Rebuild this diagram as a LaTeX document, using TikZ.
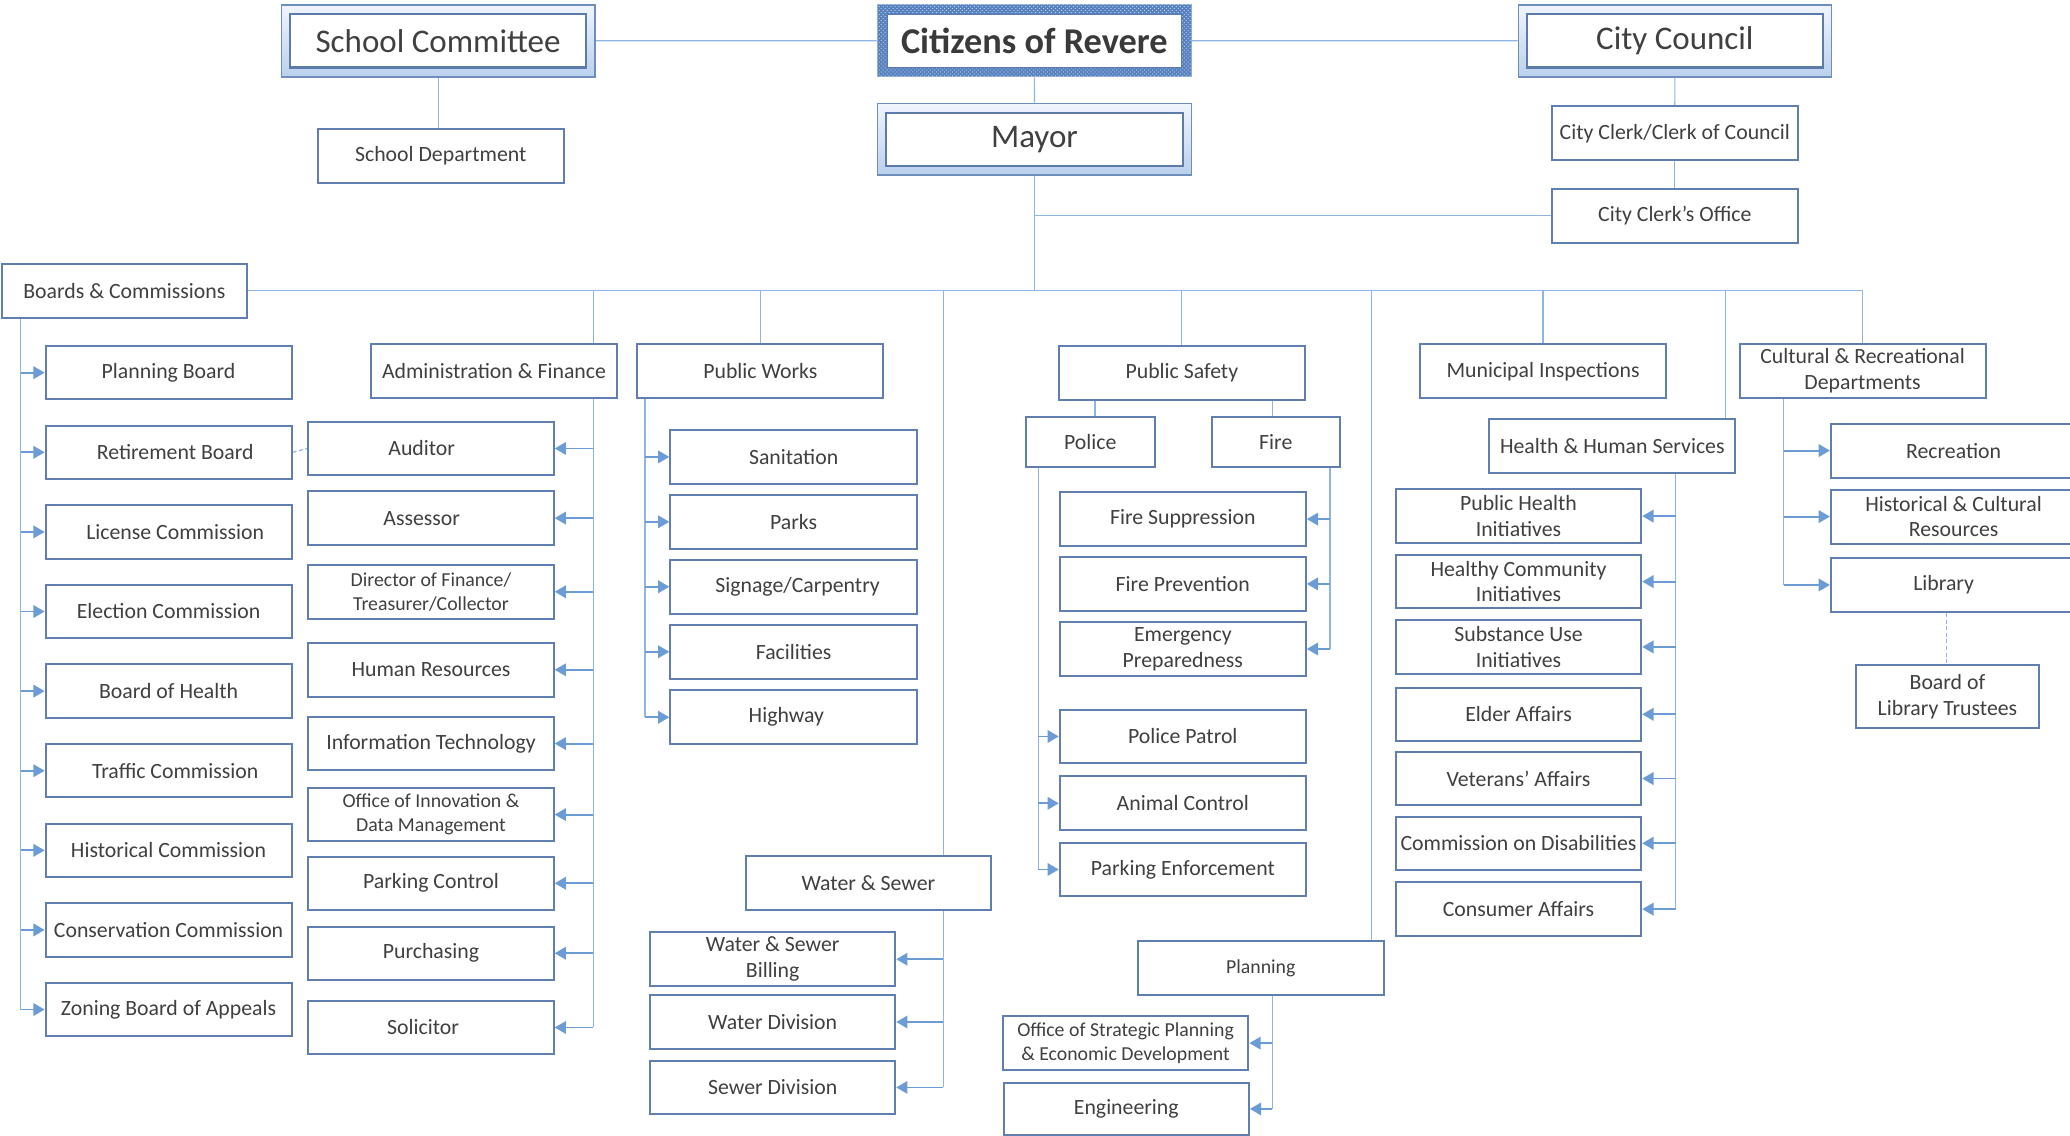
\documentclass[tikz,border=0pt]{standalone}
\usepackage{fontspec}
\setmainfont{Carlito}
\usetikzlibrary{arrows.meta,patterns,backgrounds}
\definecolor{boxc}{RGB}{96,126,176}
\definecolor{linec}{RGB}{143,181,226}
\definecolor{arrc}{RGB}{108,156,214}
\definecolor{txt}{RGB}{64,64,64}
\definecolor{frtop}{RGB}{240,245,252}
\definecolor{frbot}{RGB}{186,208,236}
\definecolor{frout}{RGB}{110,142,190}
\definecolor{frin}{RGB}{92,122,170}
\definecolor{citc}{RGB}{86,128,190}
\definecolor{citdot}{RGB}{190,210,238}
\definecolor{citedge}{RGB}{140,172,214}
\tikzset{
 obox/.style={draw=boxc, line width=1.5pt, fill=white, inner sep=0pt, text=txt, align=center, font=\fontsize{16.5}{19.5}\selectfont},
 smallt/.style={font=\fontsize{15}{18.2}\selectfont},
 conn/.style={draw=linec, line width=0.9pt},
 arr/.style={draw=arrc, line width=1.4pt, -{Triangle[length=8.5pt,width=9.5pt]}},
 dashc/.style={draw=linec, line width=0.9pt, dash pattern=on 3pt off 2pt},
 tframe/.style={draw=frout, line width=1.2pt, top color=frtop, bottom color=frbot, inner sep=0pt, anchor=north west},
 ttl/.style={draw=frin, line width=1.6pt, fill=white, inner sep=0pt, text=txt, font=\fontsize{25}{30}\selectfont},
}
\newcommand\bx[7][]{\node[obox,minimum width={#5-#3},minimum height={#6-#4},anchor=north west,#1] (#2) at (#3,#4) {#7};}
\begin{document}
\begin{tikzpicture}[x=1pt,y=-1pt]
\useasboundingbox (0,0) rectangle (1568,860);
\clip (0,0) rectangle (1568,860);
% ---- top row
\node[tframe, minimum width=237.5, minimum height=54.6] (schcomF) at (212.5,3) {};
\node[ttl, minimum width=224.5, minimum height=40.4] (schcom) at (schcomF.center) {School Committee};
\node[tframe, minimum width=238, minimum height=54] (mayorF) at (664,77.8) {};
\node[ttl, minimum width=224.8, minimum height=40.1] (mayor) at (mayorF.center) {Mayor};
\node[tframe, minimum width=237.2, minimum height=54.6] (councilF) at (1149.5,3) {};
\node[ttl, minimum width=223.8, minimum height=40.4] (council) at (councilF.center) {City Council};
\node[draw=citedge, line width=1pt, fill=citc, minimum width=238, minimum height=54.6, anchor=north west, inner sep=0pt, postaction={pattern=crosshatch dots, pattern color=citdot}] (citF) at (664,3) {};
\node[draw=frin, line width=0.8pt, fill=white, minimum width=223, minimum height=40, inner sep=0pt, text={rgb,255:red,58;green,58;blue,58}, font=\bfseries\fontsize{27.5}{32}\selectfont] (cit) at (citF.center) {Citizens of Revere};
\bx{schdept}{240}{96.7}{426.2}{137.9}{School Department}
\bx{clerk}{1174.7}{79.8}{1361.1}{120.7}{City Clerk/Clerk of Council}
\bx{clerkoff}{1174.7}{142.1}{1361.1}{183}{City Clerk’s Office}
\bx{boards}{0.8}{199.2}{186.2}{239.9}{Boards \& Commissions}
% ---- boards column
\bx{planb}{33.8}{261.3}{220.1}{301.8}{Planning Board}
\bx{retire}{33.8}{321.6}{220.1}{362.1}{\hspace*{10pt}Retirement Board}
\bx{license}{33.8}{381.9}{220.1}{422.4}{\hspace*{10pt}License Commission}
\bx{election}{33.8}{442.2}{220.1}{482.7}{Election Commission}
\bx{boh}{33.8}{502.5}{220.1}{543}{Board of Health}
\bx{traffic}{33.8}{562.8}{220.1}{603.3}{\hspace*{10pt}Traffic Commission}
\bx{histc}{33.8}{623.1}{220.1}{663.6}{Historical Commission}
\bx{conserv}{33.8}{683.4}{220.1}{723.9}{Conservation Commission}
\bx{zoning}{33.8}{743.7}{220.1}{784.2}{Zoning Board of Appeals}
% ---- admin & finance
\bx{admin}{280.3}{259.5}{466.6}{300.7}{Administration \& Finance}
\bx{auditor}{232.7}{318.6}{418.7}{359.3}{Auditor\hspace*{14pt}}
\bx{assessor}{232.7}{371.4}{418.7}{412}{Assessor\hspace*{14pt}}
\bx[smallt]{director}{232.7}{427.2}{418.7}{467.8}{Director of Finance/\\Treasurer/Collector}
\bx{hr}{232.7}{486.3}{418.7}{526.9}{Human Resources}
\bx{it}{232.7}{542.3}{418.7}{582.7}{Information Technology}
\bx[smallt]{innov}{232.7}{596.1}{418.7}{636.5}{Office of Innovation \&\\Data Management}
\bx{parking}{232.7}{648.1}{418.7}{688.5}{Parking Control}
\bx{purch}{232.7}{701.1}{418.7}{741.5}{Purchasing}
\bx{solicitor}{232.7}{757.2}{418.7}{797.9}{Solicitor\hspace*{12pt}}
% ---- public works
\bx{pw}{482}{260}{668.4}{300.9}{Public Works}
\bx{sanit}{507}{324.9}{693.8}{365.8}{Sanitation}
\bx{parks}{507}{374.2}{693.8}{414.8}{Parks}
\bx{signage}{507}{423.4}{693.8}{464}{\hspace*{6pt}Signage/Carpentry}
\bx{facil}{507}{472.6}{693.8}{513.3}{Facilities}
\bx{highway}{507}{522.1}{693.8}{563}{Highway\hspace*{11pt}}
% ---- water & sewer
\bx{ws}{564}{647.4}{750.1}{688.3}{Water \& Sewer}
\bx{billing}{491.7}{705.4}{677.4}{746.3}{Water \& Sewer\\Billing}
\bx{waterd}{491.7}{753.2}{677.4}{793.6}{Water Division}
\bx{sewer}{491.7}{802.6}{677.4}{843.3}{Sewer Division}
% ---- public safety
\bx{ps}{801.3}{261.3}{987.7}{302}{Public Safety}
\bx{police}{776.2}{315.1}{874}{353}{Police}
\bx{fire}{917.1}{315.1}{1014.2}{353}{Fire}
\bx{firesup}{802}{371.9}{988.4}{413}{Fire Suppression}
\bx{fireprev}{802}{421.1}{988.4}{462}{Fire Prevention}
\bx{emerg}{802}{470.4}{988.4}{511.3}{Emergency\\Preparedness}
\bx{patrol}{802}{536.8}{988.4}{577.4}{Police Patrol}
\bx{animal}{802}{587.3}{988.4}{628.2}{Animal Control}
\bx{parkenf}{802}{637.5}{988.4}{678.2}{Parking Enforcement}
% ---- planning
\bx[smallt]{planning}{861}{712}{1047.6}{752.9}{Planning}
\bx[smallt]{osp}{758.8}{769.1}{944.9}{809.7}{Office of Strategic Planning\\\& Economic Development}
\bx{eng}{759.5}{819.3}{945.3}{859.2}{Engineering}
% ---- inspections / HHS
\bx{mi}{1075.1}{260}{1261.1}{300.9}{Municipal Inspections}
\bx{hhs}{1127.5}{316.8}{1313.6}{357.5}{Health \& Human Services}
\bx{phi}{1056.5}{369.9}{1242.5}{410.5}{Public Health\\Initiatives}
\bx{hci}{1056.5}{419.6}{1242.5}{460}{Healthy Community\\Initiatives}
\bx{sui}{1056.5}{469.1}{1242.5}{509.5}{Substance Use\\Initiatives}
\bx{elder}{1056.5}{520.1}{1242.5}{560.5}{Elder Affairs}
\bx{vet}{1056.5}{568.8}{1242.5}{609.2}{Veterans’ Affairs}
\bx{dis}{1056.5}{617.8}{1242.5}{658.2}{Commission on Disabilities}
\bx{consumer}{1056.5}{667.6}{1242.5}{708.2}{Consumer Affairs}
% ---- cultural & recreational
\bx{cr}{1316.9}{259.5}{1503.3}{300.4}{Cultural \& Recreational\\Departments}
\bx{rec}{1386.1}{320.1}{1572}{361}{Recreation}
\bx{hcr}{1386.1}{370.1}{1572}{411}{Historical \& Cultural\\Resources}
\bx{library}{1386.1}{421.9}{1572}{462.8}{Library\hspace*{15pt}}
\bx{blt}{1405.4}{503.2}{1543.4}{550.9}{Board of\\Library Trustees}
% ---- trunk x positions
\coordinate (xBt) at (15.6,0);
\coordinate (xAF) at (449.3,0);
\coordinate (xPWt) at (488.6,0);
\coordinate (xWS) at (714.6,0);
\coordinate (xPol) at (829.4,0);
\coordinate (xFire) at (963.7,0);
\coordinate (xPD) at (786.6,0);
\coordinate (xFD) at (1007.4,0);
\coordinate (xPL) at (1039,0);
\coordinate (xPLt) at (963.7,0);
\coordinate (xHHS) at (1306.9,0);
\coordinate (xHHSt) at (1269.3,0);
\coordinate (xCRt) at (1351.1,0);
\coordinate (xLib) at (1474.3,0);
\begin{scope}[on background layer]
\fill[white] (0,0) rectangle (1568,860);
% top
\draw[conn] (schcomF.east) -- (citF.west);
\draw[conn] (citF.east) -- (councilF.west);
\draw[conn] (citF.south) -- (mayorF.north);
\draw[conn] (schcomF.south) -- (schcomF.south |- schdept.north);
\draw[conn] (councilF.south) -- (clerk.north);
\draw[conn] (clerk.south) -- (clerkoff.north);
\draw[conn] (mayorF.south) -- (mayorF.south |- boards.east);
\draw[conn] (mayorF.south |- clerkoff.west) -- (clerkoff.west);
% bus
\draw[conn] (boards.east) -| (cr.north);
% boards
\draw[conn] (xBt |- boards.south) -- (xBt |- zoning.west);
\foreach \n in {planb,retire,license,election,boh,traffic,histc,conserv,zoning}
  \draw[arr] (xBt |- \n.west) -- (\n.west);
\draw[dashc] (retire.east) -- (auditor.west);
% admin
\draw[conn] (xAF |- boards.east) -- (xAF |- solicitor.east);
\foreach \n in {auditor,assessor,director,hr,it,innov,parking,purch,solicitor}
  \draw[arr] (xAF |- \n.east) -- (\n.east);
% public works
\draw[conn] (pw.north |- boards.east) -- (pw.north);
\draw[conn] (xPWt |- pw.south) -- (xPWt |- highway.west);
\foreach \n in {sanit,parks,signage,facil,highway}
  \draw[arr] (xPWt |- \n.west) -- (\n.west);
% water & sewer
\draw[conn] (xWS |- boards.east) -- (xWS |- ws.north);
\draw[conn] (xWS |- ws.south) -- (xWS |- sewer.east);
\foreach \n in {billing,waterd,sewer}
  \draw[arr] (xWS |- \n.east) -- (\n.east);
% public safety
\draw[conn] (ps.north |- boards.east) -- (ps.north);
\draw[conn] (xPol |- ps.south) -- (xPol |- police.north);
\draw[conn] (xFire |- ps.south) -- (xFire |- fire.north);
\draw[conn] (xPD |- police.south) -- (xPD |- parkenf.west);
\foreach \n in {patrol,animal,parkenf}
  \draw[arr] (xPD |- \n.west) -- (\n.west);
\draw[conn] (xFD |- fire.south) -- (xFD |- emerg.east);
\foreach \n in {firesup,fireprev,emerg}
  \draw[arr] (xFD |- \n.east) -- (\n.east);
% planning
\draw[conn] (xPL |- boards.east) -- (xPL |- planning.north);
\draw[conn] (xPLt |- planning.south) -- (xPLt |- eng.east);
\foreach \n in {osp,eng}
  \draw[arr] (xPLt |- \n.east) -- (\n.east);
% inspections / HHS
\draw[conn] (mi.north |- boards.east) -- (mi.north);
\draw[conn] (xHHS |- boards.east) -- (xHHS |- hhs.north);
\draw[conn] (xHHSt |- hhs.south) -- (xHHSt |- consumer.east);
\foreach \n in {phi,hci,sui,elder,vet,dis,consumer}
  \draw[arr] (xHHSt |- \n.east) -- (\n.east);
% cultural
\draw[conn] (xCRt |- cr.south) -- (xCRt |- library.west);
\foreach \n in {rec,hcr,library}
  \draw[arr] (xCRt |- \n.west) -- (\n.west);
\draw[dashc] (xLib |- library.south) -- (xLib |- blt.north);
\end{scope}
\end{tikzpicture}
\end{document}
